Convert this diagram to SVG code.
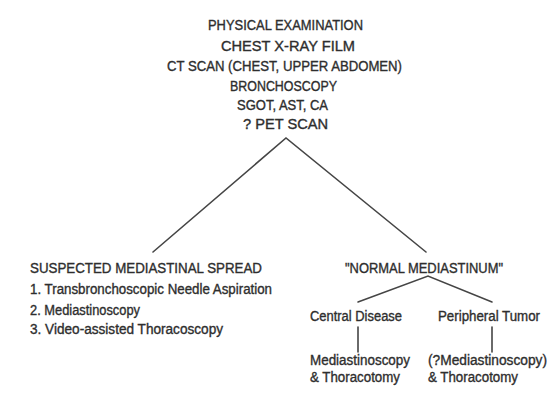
<svg xmlns="http://www.w3.org/2000/svg" width="549" height="394" viewBox="0 0 549 394">
  <style>
    .t { font-family: "Liberation Sans", Arial, sans-serif; font-size: 14px; fill: #2e2e2e; stroke: #2e2e2e; stroke-width: 0.35; }
    .c { fill: none; stroke: #454545; stroke-width: 1.6; stroke-linecap: round; }
  </style>
  <rect width="549" height="394" fill="#ffffff"/>

  <!-- work-up list at the top -->
  <g id="workup">
    <text class="t" x="208" y="30" textLength="155" lengthAdjust="spacingAndGlyphs">PHYSICAL EXAMINATION</text>
    <text class="t" x="221" y="51" textLength="134" lengthAdjust="spacingAndGlyphs">CHEST X-RAY FILM</text>
    <text class="t" x="167" y="70.5" textLength="235" lengthAdjust="spacingAndGlyphs">CT SCAN (CHEST, UPPER ABDOMEN)</text>
    <text class="t" x="230" y="91" textLength="107" lengthAdjust="spacingAndGlyphs">BRONCHOSCOPY</text>
    <text class="t" x="237" y="109.5" textLength="91" lengthAdjust="spacingAndGlyphs">SGOT, AST, CA</text>
    <text class="t" x="243" y="129" textLength="85" lengthAdjust="spacingAndGlyphs">? PET SCAN</text>
  </g>

  <!-- left branch -->
  <g id="spread">
    <text class="t" x="30" y="273" textLength="232" lengthAdjust="spacingAndGlyphs">SUSPECTED MEDIASTINAL SPREAD</text>
    <text class="t" x="30" y="294" textLength="242" lengthAdjust="spacingAndGlyphs">1. Transbronchoscopic Needle Aspiration</text>
    <text class="t" x="30" y="315" textLength="110" lengthAdjust="spacingAndGlyphs">2. Mediastinoscopy</text>
    <text class="t" x="30" y="334" textLength="193" lengthAdjust="spacingAndGlyphs">3. Video-assisted Thoracoscopy</text>
  </g>

  <!-- right branch -->
  <g id="normal">
    <text class="t" x="345" y="273" textLength="158" lengthAdjust="spacingAndGlyphs">"NORMAL MEDIASTINUM"</text>
  </g>
  <g id="central">
    <text class="t" x="310" y="321" textLength="92" lengthAdjust="spacingAndGlyphs">Central Disease</text>
  </g>
  <g id="peripheral">
    <text class="t" x="438" y="321" textLength="102" lengthAdjust="spacingAndGlyphs">Peripheral Tumor</text>
  </g>
  <g id="central-tx">
    <text class="t" x="310" y="365" textLength="100" lengthAdjust="spacingAndGlyphs">Mediastinoscopy</text>
    <text class="t" x="310" y="382" textLength="90" lengthAdjust="spacingAndGlyphs">&amp; Thoracotomy</text>
  </g>
  <g id="peripheral-tx">
    <text class="t" x="428" y="365" textLength="119" lengthAdjust="spacingAndGlyphs">(?Mediastinoscopy)</text>
    <text class="t" x="428" y="382" textLength="90" lengthAdjust="spacingAndGlyphs">&amp; Thoracotomy</text>
  </g>

  <!-- connectors -->
  <g id="connectors">
    <polyline class="c" points="153,252 286,138 426,252"/>
    <polyline class="c" points="358,302 428,276 492,302"/>
    <line class="c" x1="358" y1="327" x2="358" y2="352"/>
    <line class="c" x1="492" y1="327" x2="492" y2="352"/>
  </g>
</svg>
